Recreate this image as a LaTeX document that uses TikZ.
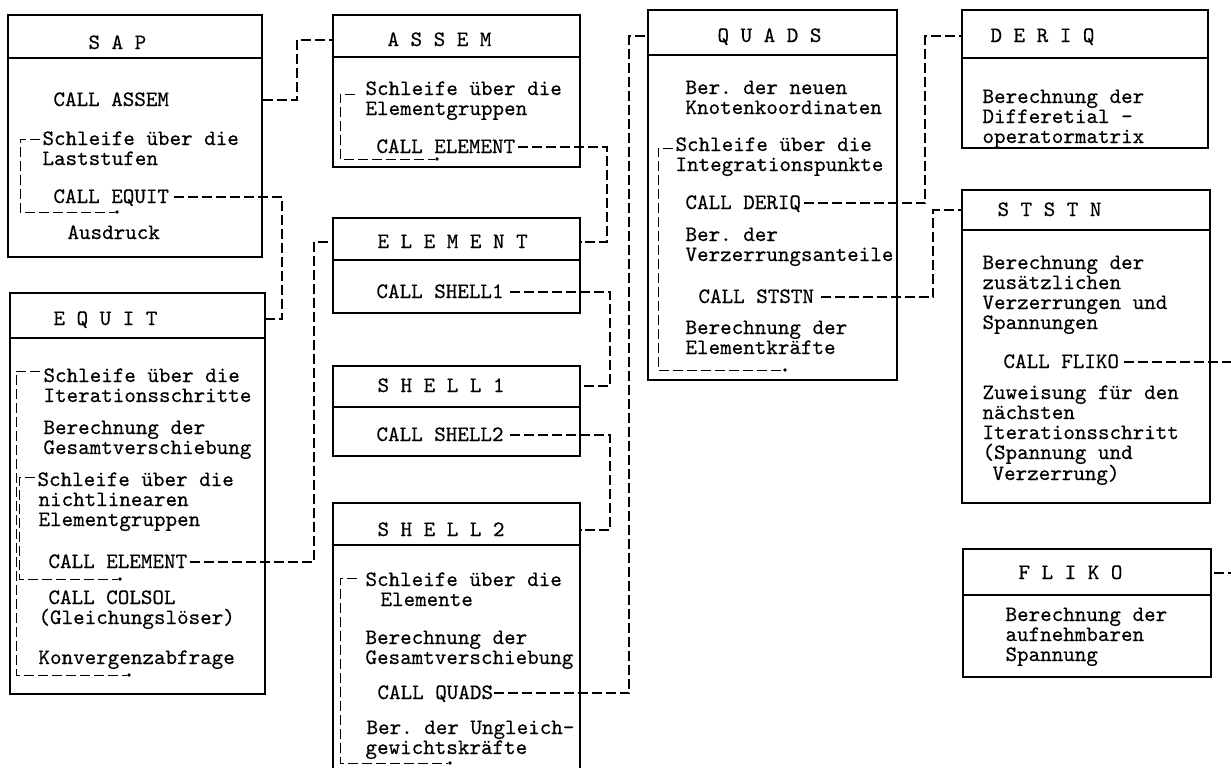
\documentclass[tikz,border=0pt]{standalone}
\usepackage{fontspec}
\setmonofont{lmmono10-regular.otf}[FakeBold=0.4]
\usepackage{tikz}
\usetikzlibrary{fit}
\tikzset{every picture/.style={line width=0.5pt}}
\tikzset{
  box/.style={draw, line width=0.9pt, inner sep=0pt},
  head/.style={line width=0.9pt},
  txt/.style={anchor=west, inner sep=0pt, text height=6.5pt, text depth=0.5pt,
    font=\ttfamily\fontsize{11}{12}\selectfont},
  conn/.style={line width=0.6pt, dash pattern=on 5pt off 2pt},
  loopline/.style={line width=0.5pt, dash pattern=on 5pt off 2pt},
}

\begin{document}
\begin{tikzpicture}[x=0.5pt,y=-0.5pt]
\useasboundingbox (0,0) rectangle (1231,767);
\clip (0,0) rectangle (1231,767);
% boxes with title rows
\node[box, fit={(8,15) (262,257)}] (sap) {};
\draw[head] (sap.west |- 0,58) -- (sap.east |- 0,58);
\node[box, fit={(333,15) (580,167)}] (assem) {};
\draw[head] (assem.west |- 0,57) -- (assem.east |- 0,57);
\node[box, fit={(333,218) (580,313)}] (elem) {};
\draw[head] (elem.west |- 0,260) -- (elem.east |- 0,260);
\node[box, fit={(333,366) (580,456)}] (shOne) {};
\draw[head] (shOne.west |- 0,407) -- (shOne.east |- 0,407);
\node[box, fit={(333,503) (580,800)}] (shTwo) {};
\draw[head] (shTwo.west |- 0,545) -- (shTwo.east |- 0,545);
\node[box, fit={(10,293) (265,694)}] (equit) {};
\draw[head] (equit.west |- 0,338) -- (equit.east |- 0,338);
\node[box, fit={(648,10) (897,380)}] (quads) {};
\draw[head] (quads.west |- 0,55) -- (quads.east |- 0,55);
\node[box, fit={(962,10) (1208,148)}] (deriq) {};
\draw[head] (deriq.west |- 0,58) -- (deriq.east |- 0,58);
\node[box, fit={(962,190) (1210,503)}] (ststn) {};
\draw[head] (ststn.west |- 0,230) -- (ststn.east |- 0,230);
\node[box, fit={(963,549) (1211,677)}] (fliko) {};
\draw[head] (fliko.west |- 0,595) -- (fliko.east |- 0,595);
% titles
\node[txt] (sapT)   at (88,43)   {S A P};
\node[txt] (assemT) at (387,40)  {A S S E M};
\node[txt] (elemT)  at (377,242) {E L E M E N T};
\node[txt] (shOneT) at (377,386) {S H E L L 1};
\node[txt] (shTwoT) at (377,530) {S H E L L 2};
\node[txt] (equitT) at (53,319)  {E Q U I T};
\node[txt] (quadsT) at (717,36)  {Q U A D S};
\node[txt] (deriqT) at (990,36)  {D E R I Q};
\node[txt] (ststnT) at (997,210) {S T S T N};
\node[txt] (flikoT) at (1018,573) {F L I K O};
% SAP
\node[txt] (sapCallA) at (53,100) {CALL ASSEM};
\node[txt] (sapCallB) at (53,197) {CALL EQUIT};
\foreach \lx/\ly/\lt [count=\i] in {42/139/Schleife über die, 42/159/Laststufen, 67/233/Ausdruck}
  \node[txt] (sap-\i) at (\lx,\ly) {\lt};
\draw[loopline] (40,139) -- (20,139) -- (20,212) -- (115,212);
\fill (117,212) circle[radius=0.9pt];
% ASSEM, ELEMENT, SHELL1
\node[txt] (asmCall) at (376,147) {CALL ELEMENT};
\foreach \lx/\ly/\lt [count=\i] in {365/89/Schleife über die, 365/109/Elementgruppen}
  \node[txt] (assem-\i) at (\lx,\ly) {\lt};
\draw[loopline] (355,94) -- (340,94) -- (340,159) -- (435,159);
\fill (437,159) circle[radius=0.9pt];
\node[txt] (elCall) at (376,292) {CALL SHELL1};
\node[txt] (s1Call) at (376,435) {CALL SHELL2};
% SHELL2
\node[txt] (s2Call) at (377,693) {CALL QUADS};
\foreach \lx/\ly/\lt [count=\i] in {365/580/Schleife über die, 380/600/Elemente,
    365/638/Berechnung der, 365/658/Gesamtverschiebung,
    366/728/Ber. der Ungleich-, 365/748/gewichtskräfte}
  \node[txt] (shTwo-\i) at (\lx,\ly) {\lt};
\draw[loopline] (357,578) -- (340,578) -- (340,763) -- (448,763);
\fill (450,763) circle[radius=0.9pt];
% EQUIT
\node[txt] (eqCall) at (48,562) {CALL ELEMENT};
\foreach \lx/\ly/\lt [count=\i] in {43/376/Schleife über die, 43/396/Iterationsschritte,
    43/428/Berechnung der, 43/448/Gesamtverschiebung,
    37/480/Schleife über die, 38/500/nichtlinearen, 38/520/Elementgruppen,
    48/598/CALL COLSOL, 38/618/(Gleichungslöser), 38/658/Konvergenzabfrage}
  \node[txt] (equit-\i) at (\lx,\ly) {\lt};
\draw[loopline] (40,371) -- (16,371) -- (16,675) -- (127,675);
\fill (129,675) circle[radius=0.9pt];
\draw[loopline] (35,477) -- (19.5,477) -- (19.5,579) -- (118,579);
\fill (120,579) circle[radius=0.9pt];
% QUADS
\node[txt] (qCallA) at (685,203) {CALL DERIQ};
\node[txt] (qCallB) at (698,297) {CALL STSTN};
\foreach \lx/\ly/\lt [count=\i] in {685/88/Ber. der neuen, 685/108/Knotenkoordinaten,
    675/145/Schleife über die, 675/165/Integrationspunkte,
    685/235/Ber. der, 685/255/Verzerrungsanteile,
    685/328/Berechnung der, 685/348/Elementkräfte}
  \node[txt] (quads-\i) at (\lx,\ly) {\lt};
\draw[loopline] (673,148) -- (658,148) -- (658,370) -- (783,370);
\fill (785,370) circle[radius=0.9pt];
% DERIQ, STSTN, FLIKO
\foreach \lx/\ly/\lt [count=\i] in {982/97/Berechnung der, 982/117/Differetial -, 982/137/operatormatrix}
  \node[txt] (deriq-\i) at (\lx,\ly) {\lt};
\node[txt] (stCall) at (1003,362) {CALL FLIKO};
\foreach \lx/\ly/\lt [count=\i] in {982/263/Berechnung der, 982/283/zusätzlichen,
    982/303/Verzerrungen und, 982/323/Spannungen,
    982/393/Zuweisung für den, 982/413/nächsten, 982/433/Iterationsschritt,
    982/453/(Spannung und, 992/474/Verzerrung)}
  \node[txt] (ststn-\i) at (\lx,\ly) {\lt};
\foreach \lx/\ly/\lt [count=\i] in {1005/615/Berechnung der, 1005/635/aufnehmbaren, 1005/655/Spannung}
  \node[txt] (fliko-\i) at (\lx,\ly) {\lt};
% calls
\coordinate (offRight) at (1250,0);
\draw[conn] (sapCallA -| sap.east) -- (sapCallA -| 297,0) |- (assemT -| assem.west);
\draw[conn, shorten <=2pt] (sapCallB.east) -- (sapCallB -| 282,0) |- (equitT -| equit.east);
\draw[conn, shorten <=1pt] (asmCall.east) -- (asmCall -| 607,0) |- (elemT -| elem.east);
\draw[conn, shorten <=1pt] (eqCall.east) -- (eqCall -| 314,0) |- (elemT -| elem.west);
\draw[conn, shorten <=3pt] (elCall.east) -- (elCall -| 610,0) |- (shOneT -| shOne.east);
\draw[conn, shorten <=3pt] (s1Call.east) -- (s1Call -| 610,0) |- (shTwoT -| shTwo.east);
\draw[conn] (s2Call.east) -- (s2Call -| 629,0) |- (quadsT -| quads.west);
\draw[conn, shorten <=1pt] (qCallA.east) -- (qCallA -| 925,0) |- (deriqT -| deriq.west);
\draw[conn, shorten <=3pt] (qCallB.east) -- (qCallB -| 933,0) |- (ststnT -| ststn.west);
\draw[conn, shorten <=2pt] (stCall.east) -- (stCall -| offRight) |- (flikoT -| fliko.east);
\end{tikzpicture}
\end{document}
